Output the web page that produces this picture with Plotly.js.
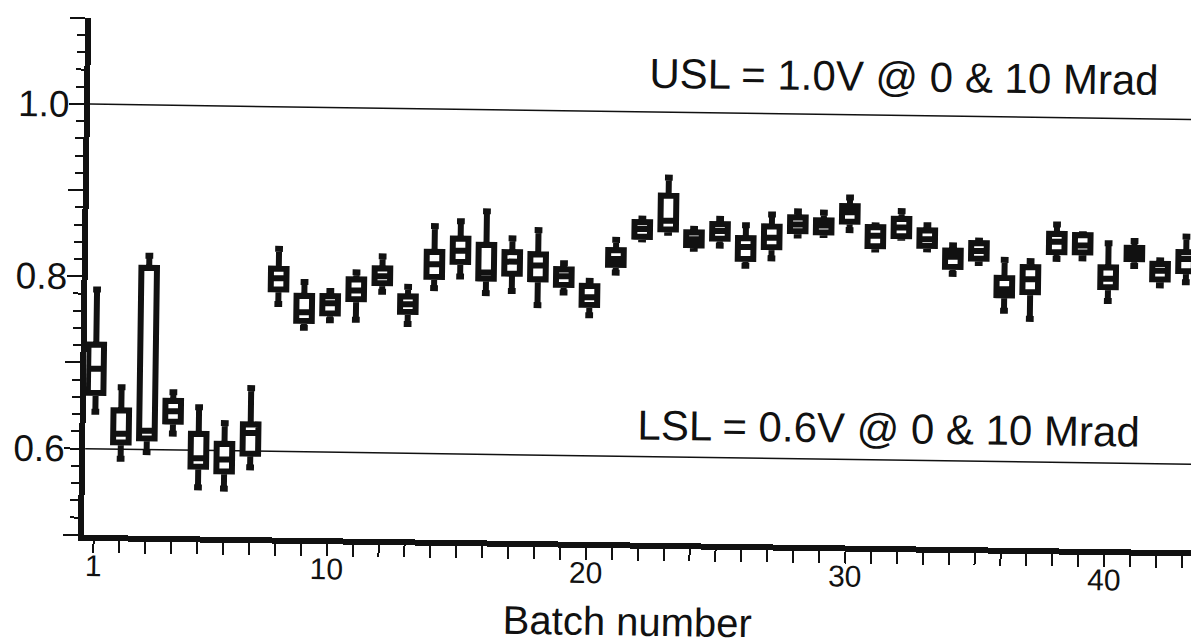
<!DOCTYPE html>
<html>
<head>
<meta charset="utf-8">
<script src="https://cdn.plot.ly/plotly-3.0.1.min.js"></script>
<style>
html, body { margin:0; padding:0; background:#fff; overflow:hidden; width:1191px; height:643px; }
#chart { width:1200px; height:643px; transform: rotate(0.8deg); transform-origin: 595px 321px; }
</style>
</head>
<body>
<div id="chart"></div>
<script>
// ---- data ----
const batches = [1,2,3,4,5,6,7,8,9,10,11,12,13,14,15,16,17,18,19,20,21,22,23,24,25,26,27,28,29,30,31,32,33,34,35,36,37,38,39,40,41,42,43];
const upperWhisker = [0.785,0.672,0.825,0.667,0.650,0.632,0.673,0.835,0.797,0.787,0.809,0.828,0.793,0.864,0.870,0.882,0.851,0.861,0.823,0.803,0.851,0.876,0.924,0.865,0.877,0.870,0.883,0.887,0.886,0.904,0.872,0.889,0.873,0.850,0.856,0.834,0.833,0.876,0.865,0.855,0.858,0.836,0.864];
const q3 = [0.721,0.645,0.811,0.657,0.619,0.608,0.631,0.812,0.781,0.781,0.801,0.814,0.782,0.834,0.850,0.843,0.835,0.833,0.816,0.797,0.839,0.872,0.903,0.861,0.871,0.855,0.869,0.880,0.877,0.894,0.870,0.880,0.867,0.844,0.853,0.813,0.826,0.865,0.864,0.827,0.850,0.832,0.846];
const median = [0.693,0.618,0.622,0.645,0.591,0.590,0.621,0.801,0.762,0.773,0.788,0.805,0.773,0.820,0.836,0.811,0.824,0.820,0.808,0.784,0.829,0.864,0.874,0.853,0.863,0.845,0.856,0.872,0.871,0.887,0.860,0.870,0.857,0.837,0.844,0.800,0.812,0.856,0.852,0.814,0.843,0.824,0.838];
const q1 = [0.665,0.608,0.613,0.633,0.581,0.576,0.597,0.788,0.752,0.761,0.778,0.797,0.764,0.805,0.823,0.804,0.810,0.804,0.798,0.775,0.822,0.855,0.864,0.846,0.854,0.831,0.845,0.864,0.863,0.876,0.848,0.860,0.849,0.825,0.835,0.793,0.797,0.844,0.844,0.804,0.837,0.814,0.824];
const lowerWhisker = [0.643,0.589,0.597,0.619,0.557,0.556,0.581,0.771,0.744,0.753,0.754,0.787,0.750,0.792,0.806,0.787,0.790,0.774,0.789,0.763,0.813,0.852,0.860,0.842,0.846,0.823,0.832,0.859,0.860,0.866,0.844,0.858,0.845,0.817,0.830,0.775,0.766,0.836,0.837,0.788,0.829,0.807,0.811];

const specLimits = [1.0, 0.6];
const specLabels = ['USL = 1.0V @ 0 & 10 Mrad', 'LSL = 0.6V @ 0 & 10 Mrad'];
const specLabelX = [32.02, 31.6];
const labeledBatches = [1, 10, 20, 30, 40];
const yTickVals = [0.5, 0.6, 0.7, 0.8, 0.9, 1.0, 1.1];
const yTickText = ['', '0.6', '', '0.8', '', '1.0', ''];
const xTitle = 'Batch number';

// ---- styling ----
const ink = '#111';
const fam = '"Liberation Sans", Arial, Helvetica, sans-serif';

const trace = {
  type: 'box',
  x: batches,
  q1: q1,
  median: median,
  q3: q3,
  lowerfence: lowerWhisker,
  upperfence: upperWhisker,
  width: 0.6,
  whiskerwidth: 0.5,
  line: { color: ink, width: 6 },
  fillcolor: '#ffffff',
  boxpoints: false,
  hoverinfo: 'skip',
  showlegend: false
};

const layout = {
  width: 1200,
  height: 643,
  margin: { l: 87, r: 0, t: 25, b: 101 },
  paper_bgcolor: '#ffffff',
  plot_bgcolor: '#ffffff',
  showlegend: false,
  font: { family: fam, color: ink },
  xaxis: {
    range: [0.627, 43.57],
    tickmode: 'array',
    tickvals: batches,
    ticktext: batches.map(b => labeledBatches.includes(b) ? String(b) : ''),
    ticks: 'outside', ticklen: 12, tickwidth: 2, tickcolor: ink,
    ticklabelstandoff: -13,
    showline: true, linewidth: 6, linecolor: ink,
    showgrid: false, zeroline: false,
    tickfont: { size: 30, family: fam, color: ink }
  },
  yaxis: {
    range: [0.5, 1.1],
    tickmode: 'array',
    tickvals: yTickVals,
    ticktext: yTickText,
    ticks: 'outside', ticklen: 15, tickwidth: 2, tickcolor: ink,
    ticklabelstandoff: -8,
    minor: { tickmode: 'linear', tick0: 0.5, dtick: 0.02, ticks: 'outside', ticklen: 8, tickwidth: 2, tickcolor: ink },
    showline: true, linewidth: 6, linecolor: ink,
    showgrid: false, zeroline: false,
    tickfont: { size: 37, family: fam, color: ink }
  },
  shapes: specLimits.map(v => ({
    type: 'line', xref: 'paper', x0: 0, x1: 1, yref: 'y', y0: v, y1: v,
    line: { color: ink, width: 1.5 }, layer: 'below'
  })),
  annotations: [
    { xref: 'x', yref: 'y', x: specLabelX[0], y: specLimits[0], xanchor: 'center', yanchor: 'bottom', yshift: 13,
      text: specLabels[0], showarrow: false, font: { size: 42, family: fam, color: ink } },
    { xref: 'x', yref: 'y', x: specLabelX[1], y: specLimits[1], xanchor: 'center', yanchor: 'bottom', yshift: 6,
      text: specLabels[1], showarrow: false, font: { size: 42, family: fam, color: ink } },
    { xref: 'x', yref: 'paper', x: 21.62, y: -0.107, xanchor: 'center', yanchor: 'top',
      text: xTitle, showarrow: false, font: { size: 40, family: fam, color: ink } }
  ]
};

Plotly.newPlot('chart', [trace], layout, { displayModeBar: false, staticPlot: true });
</script>
</body>
</html>
